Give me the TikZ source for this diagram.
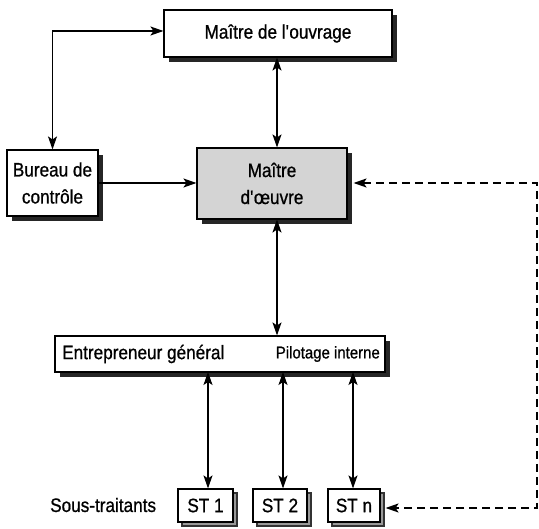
\documentclass[tikz,border=0pt]{standalone}
\usepackage{fontspec}
\setmainfont{Liberation Sans}[FakeStretch=0.88,FakeBold=0.8]
\usetikzlibrary{arrows.meta,shadows}
\begin{document}
\begin{tikzpicture}[x=1pt,y=-1pt,
  txt/.style={font=\fontsize{19.5}{27}\selectfont, inner sep=0pt},
  smalltxt/.style={font=\fontsize{17}{20}\selectfont, inner sep=0pt},
  box/.style={draw, line width=1.1pt, fill=white, inner sep=0pt, align=center,
    font=\fontsize{19.5}{27}\selectfont,
    drop shadow={shadow xshift=5pt, shadow yshift=-5pt, fill=black!85, opacity=1}},
  stbox/.style={draw, line width=1.1pt, fill=white, inner sep=0pt, align=center,
    minimum height=33pt, font=\fontsize{19.5}{24}\selectfont,
    copy shadow={shadow xshift=4pt, shadow yshift=-4pt, fill=black!40, draw=black!80}},
  arr/.style={line width=1.2pt, {Stealth[length=13pt,width=9pt,inset=3pt]}-{Stealth[length=13pt,width=9pt,inset=3pt]}},
  onearr/.style={line width=1.2pt, -{Stealth[length=13pt,width=9pt,inset=3pt]}},
  dasharr/.style={line width=1.7pt, dash pattern=on 8pt off 5pt,
    {Stealth[length=13pt,width=9pt,inset=3pt]}-{Stealth[length=13pt,width=9pt,inset=3pt]}}]
\useasboundingbox[fill=white] (0,0) rectangle (539,529);

\node[box, minimum width=228pt, minimum height=47pt] (ouv) at (278,33.5) {Maître de l\textquotesingle ouvrage};
\node[box, minimum width=91pt, minimum height=66pt] (bur) at (52.5,183) {Bureau de\\contrôle};
\node[box, fill=black!17, minimum width=150pt, minimum height=71pt] (mo) at (272,183.5) {Maître\\d\textquotesingle œuvre};
\node[box, minimum width=330pt, minimum height=36pt] (ent) at (220,354) {};
\node[txt, anchor=west] (entl) at (62,354) {Entrepreneur général};
\node[smalltxt, anchor=east] (pil) at (380,354) {Pilotage interne};

\node[txt, anchor=west] (sous) at (50,505) {Sous-traitants};
\node[stbox, minimum width=55pt] (st1) at (205.5,505.5) {ST 1};
\node[stbox, minimum width=54pt] (st2) at (280,505.5) {ST 2};
\node[stbox, minimum width=52pt] (stn) at (354,505.5) {ST n};

\coordinate (vx) at (277,0);
\coordinate (dr1) at (537,183);
\coordinate (dr2) at (537,508);

\draw[arr] (ouv.west |- 0,31) -| (bur.north);
\draw[arr] (vx |- ouv.south) -- (vx |- mo.north);
\draw[onearr] (bur.east) -- (bur.east -| mo.west);
\draw[arr] (vx |- mo.south) -- (vx |- ent.north);
\draw[arr] (208,372) coordinate (e1) -- (e1 |- st1.north);
\draw[arr] (283,372) coordinate (e2) -- (e2 |- st2.north);
\draw[arr] (353,372) coordinate (e3) -- (e3 |- stn.north);
\draw[dasharr] ([xshift=6pt]mo.east |- dr1) -- (dr1) -- (dr2) -- ([xshift=5pt]stn.east |- dr2);
\end{tikzpicture}
\end{document}
